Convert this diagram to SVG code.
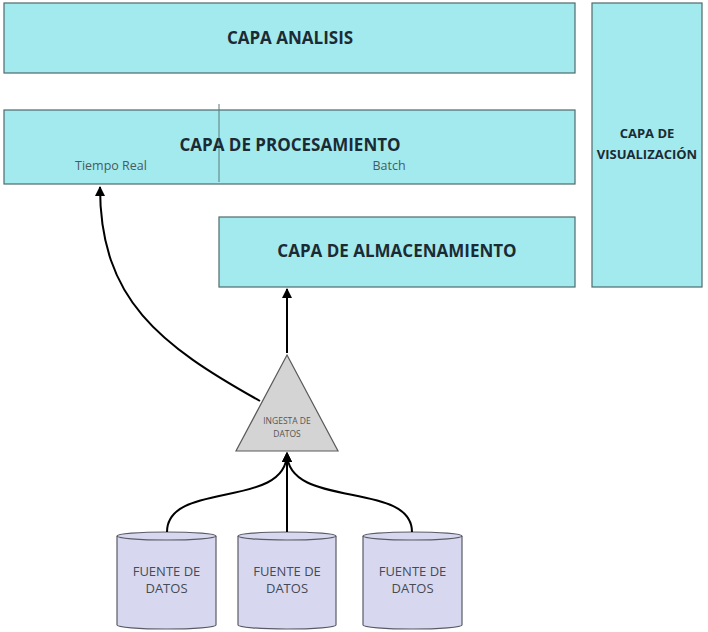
<svg xmlns="http://www.w3.org/2000/svg" width="708" height="632" viewBox="0 0 708 632">
<defs>
<style>
.layer{fill:#a3eaee;stroke:#4f6a6c;stroke-width:1.2}
.title{font-family:"Open Sans","Liberation Sans",sans-serif;font-weight:700;fill:#1c2b33;text-anchor:middle}
.sub{font-family:"Open Sans","Liberation Sans",sans-serif;font-size:12.5px;fill:#4a5a5e;text-anchor:middle}
.cyl{fill:#d7d8ef;stroke:#5a5a66;stroke-width:1.2}
.src{font-family:"Open Sans","Liberation Sans",sans-serif;font-size:13px;fill:#454a55;text-anchor:middle}
.conn{fill:none;stroke:#000;stroke-width:2;marker-end:url(#ah)}
</style>
<marker id="ah" viewBox="0 0 10 10" refX="9" refY="5" markerWidth="5" markerHeight="5" orient="auto-start-reverse" markerUnits="strokeWidth">
<path d="M0,0 L10,5 L0,10 z" fill="#000"/>
</marker>
</defs>
<rect width="708" height="632" fill="#fff"/>
<g id="capa-analisis">
<rect class="layer" x="4" y="3" width="571" height="70"/>
<text class="title" x="290" y="44" font-size="17">CAPA ANALISIS</text>
</g>
<g id="capa-procesamiento">
<rect class="layer" x="4" y="110" width="571" height="74"/>
<line x1="219" y1="104" x2="219" y2="182" stroke="#5a7a7c" stroke-width="1"/>
<text class="title" x="290" y="151" font-size="17">CAPA DE PROCESAMIENTO</text>
<text class="sub" x="111" y="170">Tiempo Real</text>
<text class="sub" x="389" y="170">Batch</text>
</g>
<g id="capa-visualizacion">
<rect class="layer" x="592" y="3" width="110" height="284"/>
<text class="title" x="647" y="138" font-size="13">CAPA DE</text>
<text class="title" x="647" y="159" font-size="13">VISUALIZACIÓN</text>
</g>
<g id="capa-almacenamiento">
<rect class="layer" x="219" y="217" width="356" height="70"/>
<text class="title" x="397" y="257" font-size="17">CAPA DE ALMACENAMIENTO</text>
</g>
<g id="ingesta">
<polygon points="287,355 236,451 338,451" fill="#d4d4d4" stroke="#5a5a5a" stroke-width="1.2"/>
<text x="287" y="424" font-family="'Open Sans','Liberation Sans',sans-serif" font-size="8.5" fill="#555" text-anchor="middle">INGESTA DE</text>
<text x="287" y="437" font-family="'Open Sans','Liberation Sans',sans-serif" font-size="8.5" fill="#555" text-anchor="middle">DATOS</text>
</g>
<g id="fuente-1">
<path class="cyl" d="M117,536 A49.5,4 0 0 1 216,536 L216,625 A49.5,4 0 0 1 117,625 Z"/>
<path d="M117,536 A49.5,4 0 0 0 216,536" fill="none" stroke="#5a5a66" stroke-width="1.2"/>
<text class="src" x="166.5" y="576">FUENTE DE</text>
<text class="src" x="166.5" y="593">DATOS</text>
</g>
<g id="fuente-2">
<path class="cyl" d="M238,536 A49,4 0 0 1 336,536 L336,625 A49,4 0 0 1 238,625 Z"/>
<path d="M238,536 A49,4 0 0 0 336,536" fill="none" stroke="#5a5a66" stroke-width="1.2"/>
<text class="src" x="287" y="576">FUENTE DE</text>
<text class="src" x="287" y="593">DATOS</text>
</g>
<g id="fuente-3">
<path class="cyl" d="M363,536 A49.5,4 0 0 1 462,536 L462,625 A49.5,4 0 0 1 363,625 Z"/>
<path d="M363,536 A49.5,4 0 0 0 462,536" fill="none" stroke="#5a5a66" stroke-width="1.2"/>
<text class="src" x="412.5" y="576">FUENTE DE</text>
<text class="src" x="412.5" y="593">DATOS</text>
</g>
<g id="connectors">
<path class="conn" d="M287,353 L287,289"/>
<path class="conn" d="M260,401 C160,345 100,300 100,187"/>
<path class="conn" d="M167,532 C167,480 287,510 287,453"/>
<path class="conn" d="M287,532 L287,453"/>
<path class="conn" d="M412,532 C412,480 287,510 287,453"/>
</g>
</svg>
